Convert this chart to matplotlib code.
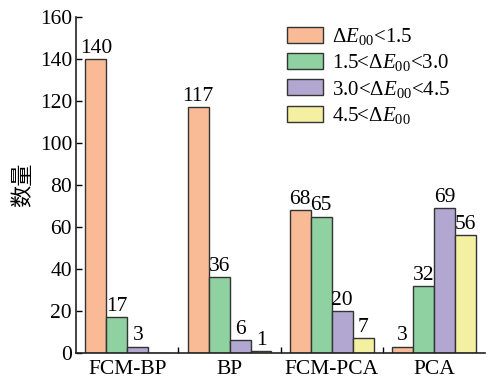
import matplotlib
matplotlib.use("Agg")
import matplotlib.pyplot as plt
import numpy as np

plt.rcParams['font.family'] = ['Liberation Serif', 'DejaVu Serif']
plt.rcParams['mathtext.fontset'] = 'custom'
plt.rcParams['mathtext.rm'] = 'Liberation Serif'
plt.rcParams['mathtext.it'] = 'Liberation Serif:italic'
plt.rcParams['mathtext.bf'] = 'Liberation Serif:bold'

categories = ['FCM-BP', 'BP', 'FCM-PCA', 'PCA']
series_names = [r'$\Delta E_{00}$<1.5', r'1.5<$\Delta E_{00}$<3.0',
                r'3.0<$\Delta E_{00}$<4.5', r'4.5<$\Delta E_{00}$']
values_lt15 = [140, 117, 68, 3]
values_15_30 = [17, 36, 65, 32]
values_30_45 = [3, 6, 20, 69]
values_gt45 = [0, 1, 7, 56]
yticks = [0, 20, 40, 60, 80, 100, 120, 140, 160]

colors = ['#F8BB96', '#8FD1A0', '#B2A7D0', '#F4F0A2']
series = [values_lt15, values_15_30, values_30_45, values_gt45]

fig = plt.figure(figsize=(4.89, 3.82), dpi=100)
ax = fig.add_axes([0.156, 0.076, 0.836, 0.879])

x = np.arange(len(categories))
w = 0.205
for i, (vals, c, name) in enumerate(zip(series, colors, series_names)):
    pos = x + (i - 1.5) * w
    ax.bar(pos, vals, width=w, color=c, edgecolor='#333333', linewidth=1.0, label=name)
    for p, v in zip(pos, vals):
        if v > 0:
            ax.text(p, v + 0.6, str(v), ha='center', va='bottom', fontsize=15.5)

ax.set_xlim(-0.5, 3.5)
ax.set_ylim(0, 160)
ax.set_yticks(yticks)
ax.set_xticks(x)
ax.set_xticklabels(categories)
ax.set_xticks([0.5, 1.5, 2.5], minor=True)
ax.tick_params(axis='x', which='major', length=0, labelsize=15.5, pad=5)
ax.tick_params(axis='x', which='minor', direction='in', length=4, width=1)
ax.tick_params(axis='y', direction='in', length=4, width=1, labelsize=15.5, pad=3)
for s in ['top', 'right']:
    ax.spines[s].set_visible(False)
for s in ['left', 'bottom']:
    ax.spines[s].set_linewidth(1.2)
    ax.spines[s].set_color('#222222')

ax.set_ylabel('数量', family=['Noto Sans CJK SC'], fontsize=16, labelpad=4)

ax.legend(loc='upper left', bbox_to_anchor=(0.495, 0.998), borderaxespad=0, frameon=False,
          fontsize=15, handlelength=1.75, handleheight=0.8, handletextpad=0.4,
          labelspacing=0.25)

fig.savefig('out.png', dpi=100)
